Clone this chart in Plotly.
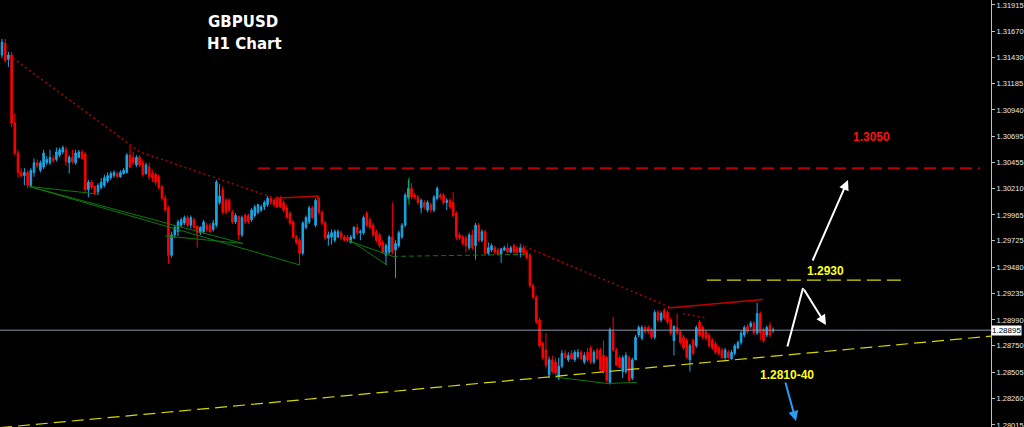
import plotly.graph_objects as go

# ---------------- data (GBPUSD H1) ----------------
opens = [
 1.3145,1.3156,1.3141,1.3145,1.3082,1.3054,1.3036,1.3033,1.3036,1.3024,
 1.3036,1.3045,1.3038,1.3041,1.3045,1.3045,1.3049,1.3048,1.3052,1.3055,
 1.3057,1.3045,1.3050,1.3045,1.3050,1.3055,1.3053,1.3020,1.3027,1.3023,
 1.3018,1.3022,1.3024,1.3028,1.3031,1.3033,1.3035,1.3032,1.3035,1.3036,
 1.3052,1.3050,1.3043,1.3050,1.3045,1.3035,1.3041,1.3035,1.3034,1.3032,
 1.3023,1.3012,1.3003,1.2959,1.2978,1.2981,1.2987,1.2989,1.2994,1.2987,
 1.2992,1.2986,1.2980,1.2981,1.2987,1.2987,1.2983,1.2987,1.3008,1.3020,
 1.3010,1.3010,1.2999,1.2990,1.2995,1.2978,1.2996,1.2996,1.2992,1.2996,
 1.2999,1.3001,1.3004,1.3006,1.3012,1.3010,1.3012,1.3012,1.3008,1.3003,
 1.2998,1.2990,1.2976,1.2973,1.2961,1.2985,1.2990,1.3003,1.2987,1.3012,
 1.2999,1.2989,1.2975,1.2976,1.2973,1.2976,1.2980,1.2976,1.2976,1.2971,
 1.2975,1.2985,1.2980,1.2980,1.2998,1.2992,1.2987,1.2981,1.2978,1.2971,
 1.2959,1.2962,1.2976,1.2964,1.2968,1.2976,1.2987,1.3013,1.3021,1.3015,
 1.3013,1.3003,1.3008,1.3001,1.3006,1.3001,1.3012,1.3015,1.3015,1.3008,
 1.3010,1.3008,1.2998,1.2978,1.2976,1.2975,1.2966,1.2978,1.2968,1.2987,
 1.2973,1.2981,1.2961,1.2964,1.2966,1.2964,1.2960,1.2964,1.2966,1.2962,
 1.2968,1.2966,1.2962,1.2966,1.2962,1.2959,1.2931,1.2920,1.2899,1.2877,
 1.2871,1.2848,1.2862,1.2860,1.2845,1.2856,1.2868,1.2862,1.2868,1.2862,
 1.2865,1.2869,1.2860,1.2869,1.2873,1.2860,1.2871,1.2871,1.2866,1.2864,
 1.2841,1.2888,1.2871,1.2864,1.2851,1.2851,1.2864,1.2845,1.2862,1.2885,
 1.2882,1.2892,1.2892,1.2890,1.2883,1.2906,1.2899,1.2908,1.2906,1.2899,
 1.2880,1.2892,1.2888,1.2883,1.2880,1.2862,1.2880,1.2875,1.2897,1.2892,
 1.2888,1.2885,1.2880,1.2877,1.2873,1.2871,1.2864,1.2869,1.2863,1.2868,
 1.2873,1.2878,1.2885,1.2893,1.2893,1.2896,1.2887,1.2905,1.2890,1.2885,
 1.2894,1.2889]
highs = [
 1.3160,1.3160,1.3148,1.3148,1.3091,1.3057,1.3040,1.3040,1.3038,1.3040,
 1.3049,1.3048,1.3047,1.3057,1.3051,1.3057,1.3052,1.3059,1.3059,1.3061,
 1.3060,1.3052,1.3057,1.3057,1.3057,1.3057,1.3055,1.3029,1.3029,1.3024,
 1.3026,1.3031,1.3034,1.3036,1.3037,1.3038,1.3037,1.3038,1.3040,1.3054,
 1.3061,1.3055,1.3052,1.3052,1.3048,1.3045,1.3045,1.3038,1.3036,1.3034,
 1.3024,1.3015,1.3005,1.2981,1.2987,1.2992,1.2994,1.2996,1.2996,1.2996,
 1.2994,1.2987,1.2986,1.2992,1.2989,1.2989,1.2992,1.3029,1.3025,1.3023,
 1.3012,1.3012,1.3001,1.2998,1.2996,1.2996,1.2998,1.2998,1.3003,1.3006,
 1.3007,1.3006,1.3010,1.3014,1.3014,1.3012,1.3014,1.3014,1.3010,1.3006,
 1.3000,1.2992,1.2978,1.2975,1.2991,1.2996,1.3005,1.3005,1.3012,1.3014,
 1.3001,1.2991,1.2981,1.2983,1.2983,1.2983,1.2982,1.2978,1.2978,1.2978,
 1.2986,1.2988,1.2983,1.2996,1.3000,1.2994,1.2989,1.2983,1.2980,1.2973,
 1.2970,1.2978,1.3008,1.2973,1.2982,1.2989,1.3017,1.3029,1.3026,1.3017,
 1.3015,1.3012,1.3010,1.3010,1.3008,1.3015,1.3023,1.3017,1.3017,1.3012,
 1.3012,1.3018,1.3000,1.2980,1.2978,1.2977,1.2980,1.2983,1.2989,1.2989,
 1.2983,1.2983,1.2971,1.2970,1.2968,1.2966,1.2966,1.2968,1.2970,1.2968,
 1.2970,1.2968,1.2970,1.2968,1.2964,1.2961,1.2933,1.2922,1.2901,1.2879,
 1.2887,1.2865,1.2866,1.2864,1.2864,1.2871,1.2871,1.2869,1.2871,1.2871,
 1.2872,1.2871,1.2869,1.2873,1.2875,1.2871,1.2873,1.2873,1.2880,1.2866,
 1.2892,1.2902,1.2873,1.2866,1.2866,1.2869,1.2866,1.2864,1.2885,1.2894,
 1.2894,1.2894,1.2894,1.2892,1.2908,1.2908,1.2907,1.2910,1.2908,1.2901,
 1.2894,1.2905,1.2890,1.2885,1.2882,1.2877,1.2882,1.2894,1.2899,1.2894,
 1.2890,1.2887,1.2882,1.2879,1.2875,1.2873,1.2873,1.2871,1.2871,1.2877,
 1.2880,1.2889,1.2894,1.2895,1.2898,1.2898,1.2915,1.2907,1.2892,1.2894,
 1.2897,1.2892]
lows = [
 1.3142,1.3138,1.3134,1.3078,1.3052,1.3031,1.3031,1.3024,1.3021,1.3022,
 1.3032,1.3040,1.3036,1.3039,1.3043,1.3043,1.3045,1.3046,1.3050,1.3053,
 1.3042,1.3035,1.3044,1.3043,1.3049,1.3048,1.3018,1.3013,1.3020,1.3015,
 1.3015,1.3020,1.3022,1.3026,1.3029,1.3031,1.3031,1.3031,1.3034,1.3035,
 1.3040,1.3043,1.3041,1.3041,1.3032,1.3034,1.3029,1.3027,1.3024,1.3020,
 1.3010,1.2999,1.2951,1.2957,1.2975,1.2977,1.2985,1.2987,1.2985,1.2984,
 1.2983,1.2966,1.2978,1.2979,1.2981,1.2980,1.2981,1.2985,1.3006,1.2997,
 1.2997,1.2999,1.2988,1.2988,1.2973,1.2976,1.2988,1.2988,1.2990,1.2994,
 1.2997,1.2999,1.3001,1.3004,1.3006,1.3004,1.3003,1.3003,1.2999,1.2993,
 1.2987,1.2974,1.2969,1.2950,1.2959,1.2983,1.2988,1.2993,1.2985,1.2997,
 1.2987,1.2973,1.2968,1.2969,1.2971,1.2975,1.2973,1.2972,1.2971,1.2970,
 1.2974,1.2978,1.2973,1.2978,1.2985,1.2983,1.2976,1.2971,1.2966,1.2960,
 1.2950,1.2960,1.2960,1.2938,1.2966,1.2974,1.2985,1.3011,1.3011,1.3011,
 1.3006,1.2998,1.3002,1.2999,1.2999,1.2999,1.3010,1.3011,1.3006,1.3001,
 1.3002,1.2994,1.2973,1.2973,1.2968,1.2962,1.2964,1.2964,1.2955,1.2971,
 1.2971,1.2959,1.2959,1.2962,1.2960,1.2959,1.2952,1.2963,1.2961,1.2961,
 1.2961,1.2960,1.2957,1.2959,1.2955,1.2929,1.2918,1.2895,1.2873,1.2862,
 1.2854,1.2845,1.2849,1.2848,1.2843,1.2854,1.2863,1.2860,1.2862,1.2860,
 1.2863,1.2862,1.2858,1.2860,1.2858,1.2858,1.2862,1.2851,1.2849,1.2841,
 1.2839,1.2869,1.2856,1.2854,1.2845,1.2849,1.2841,1.2843,1.2862,1.2883,
 1.2880,1.2886,1.2886,1.2881,1.2881,1.2897,1.2897,1.2899,1.2895,1.2885,
 1.2866,1.2885,1.2876,1.2871,1.2863,1.2851,1.2866,1.2873,1.2883,1.2881,
 1.2880,1.2873,1.2871,1.2867,1.2866,1.2863,1.2862,1.2863,1.2862,1.2866,
 1.2872,1.2876,1.2883,1.2886,1.2891,1.2885,1.2885,1.2880,1.2878,1.2883,
 1.2883,1.2887]
closes = [
 1.3157,1.3140,1.3145,1.3082,1.3054,1.3036,1.3033,1.3036,1.3024,1.3038,
 1.3045,1.3042,1.3045,1.3054,1.3048,1.3050,1.3047,1.3055,1.3057,1.3059,
 1.3046,1.3050,1.3046,1.3054,1.3055,1.3049,1.3020,1.3027,1.3022,1.3017,
 1.3024,1.3027,1.3031,1.3033,1.3035,1.3036,1.3032,1.3036,1.3038,1.3052,
 1.3041,1.3045,1.3050,1.3043,1.3034,1.3043,1.3032,1.3031,1.3027,1.3022,
 1.3012,1.3001,1.2959,1.2978,1.2985,1.2990,1.2992,1.2994,1.2987,1.2994,
 1.2985,1.2980,1.2985,1.2990,1.2983,1.2981,1.2989,1.3027,1.3014,1.2999,
 1.2999,1.3001,1.2990,1.2996,1.2978,1.2994,1.2990,1.2990,1.3001,1.3004,
 1.3006,1.3004,1.3008,1.3012,1.3008,1.3006,1.3004,1.3004,1.3001,1.2994,
 1.2989,1.2976,1.2971,1.2961,1.2989,1.2994,1.3003,1.2994,1.3010,1.2999,
 1.2989,1.2975,1.2978,1.2980,1.2981,1.2981,1.2975,1.2973,1.2973,1.2976,
 1.2985,1.2980,1.2981,1.2994,1.2987,1.2985,1.2978,1.2973,1.2968,1.2962,
 1.2968,1.2976,1.2962,1.2970,1.2980,1.2987,1.3015,1.3021,1.3013,1.3013,
 1.3008,1.3010,1.3004,1.3008,1.3001,1.3013,1.3021,1.3013,1.3008,1.3010,
 1.3004,1.2996,1.2976,1.2975,1.2970,1.2968,1.2978,1.2966,1.2987,1.2973,
 1.2981,1.2961,1.2966,1.2968,1.2962,1.2960,1.2965,1.2966,1.2962,1.2966,
 1.2962,1.2962,1.2966,1.2961,1.2957,1.2931,1.2920,1.2897,1.2875,1.2864,
 1.2857,1.2862,1.2851,1.2850,1.2856,1.2868,1.2864,1.2866,1.2863,1.2869,
 1.2869,1.2863,1.2866,1.2862,1.2860,1.2869,1.2863,1.2853,1.2851,1.2843,
 1.2890,1.2871,1.2857,1.2855,1.2864,1.2866,1.2843,1.2862,1.2883,1.2892,
 1.2892,1.2888,1.2888,1.2883,1.2906,1.2899,1.2905,1.2901,1.2897,1.2887,
 1.2893,1.2887,1.2878,1.2873,1.2864,1.2875,1.2868,1.2892,1.2885,1.2883,
 1.2882,1.2875,1.2873,1.2869,1.2868,1.2864,1.2871,1.2864,1.2869,1.2875,
 1.2878,1.2887,1.2892,1.2888,1.2896,1.2887,1.2905,1.2887,1.2880,1.2892,
 1.2885,1.28895]
bars = list(range(len(closes)))

last_price = 1.28895

tick_vals = [1.31915, 1.31670, 1.31430, 1.31185, 1.30940, 1.30695, 1.30455, 1.30210,
             1.29965, 1.29725, 1.29480, 1.29235, 1.28990, 1.28750, 1.28505, 1.28260, 1.28015]
tick_text = ["1.31915", "1.31670", "1.31430", "1.31185", "1.30940", "1.30695", "1.30455", "1.30210",
             "1.29965", "1.29725", "1.29480", "1.29235", "1.28990", "1.28750", "1.28505", "1.28260", "1.28015"]

# drawn objects (bar index, price)
resist_x, resist_y = [80.0, 305.6], [1.3040, 1.3040]          # red dashed 1.3050 zone
target_x, target_y = [220.3, 282.2], [1.2936, 1.2936]         # yellow dashed 1.2930
support_x, support_y = [-0.63, 309.1], [1.2799, 1.2884]       # yellow rising support
red_dot1_x, red_dot1_y = [3.4, 43.1, 85.3], [1.3142, 1.3055, 1.3012]
red_box1_x, red_box1_y = [85.3, 98.75, 98.75], [1.3012, 1.3014, 1.3008]
red_dot2_x, red_dot2_y = [161.9, 209.4], [1.2969, 1.2910]
red_line2_x, red_line2_y = [208.1, 237.8], [1.2910, 1.2918]
red_dot3_x, red_dot3_y = [212.8, 219.7], [1.2905, 1.2901]
green_lines = [
    ([8.4, 29.7], [1.3023, 1.3016]),
    ([8.4, 75.3], [1.3023, 1.2970]),
    ([8.4, 93.1], [1.3023, 1.2950]),
    ([50.9, 75.3], [1.2977, 1.2970]),
    ([108.75, 120.3], [1.2973, 1.2950]),
    ([108.75, 122.2], [1.2972, 1.2958]),
    ([172.8, 189.1, 198.4], [1.2846, 1.2840, 1.2841]),
]
green_dash_x, green_dash_y = [122.2, 165.0], [1.2958, 1.2960]
green_tick_x, green_tick_y = [127.2, 127.2], [1.3031, 1.3006]

BLUE = "#1aa6e6"
RED = "#ff0000"
DRED = "#b00000"
GREEN = "#0b7a0b"
YELLOW = "#d6d600"

fig = go.Figure()

# last price line
fig.add_trace(go.Scatter(x=[-1, 320], y=[last_price, last_price], mode="lines",
                         line=dict(color="#8c96aa", width=1), hoverinfo="skip"))

for gx, gy in green_lines:
    fig.add_trace(go.Scatter(x=gx, y=gy, mode="lines", line=dict(color=GREEN, width=1), hoverinfo="skip"))
fig.add_trace(go.Scatter(x=green_dash_x, y=green_dash_y, mode="lines",
                         line=dict(color=GREEN, width=1, dash="5px,3px"), hoverinfo="skip"))

fig.add_trace(go.Candlestick(
    x=bars, open=opens, high=highs, low=lows, close=closes,
    increasing=dict(line=dict(color=BLUE, width=1), fillcolor=BLUE),
    decreasing=dict(line=dict(color=RED, width=1), fillcolor=RED),
    whiskerwidth=0, hoverinfo="skip"))

fig.add_trace(go.Scatter(x=green_tick_x, y=green_tick_y, mode="lines",
                         line=dict(color="#10b010", width=1), hoverinfo="skip"))

fig.add_trace(go.Scatter(x=support_x, y=support_y, mode="lines",
                         line=dict(color=YELLOW, width=1.2, dash="12px,6px"), hoverinfo="skip"))
fig.add_trace(go.Scatter(x=target_x, y=target_y, mode="lines",
                         line=dict(color=YELLOW, width=1.2, dash="14px,6px"), hoverinfo="skip"))
fig.add_trace(go.Scatter(x=resist_x, y=resist_y, mode="lines",
                         line=dict(color=RED, width=1.2, dash="12px,6px"), hoverinfo="skip"))
for rx, ry in [(red_dot1_x, red_dot1_y), (red_dot2_x, red_dot2_y), (red_dot3_x, red_dot3_y)]:
    fig.add_trace(go.Scatter(x=rx, y=ry, mode="lines",
                             line=dict(color=DRED, width=1.5, dash="2px,3px"), hoverinfo="skip"))
for rx, ry in [(red_box1_x, red_box1_y), (red_line2_x, red_line2_y)]:
    fig.add_trace(go.Scatter(x=rx, y=ry, mode="lines",
                             line=dict(color="#c00000", width=1.5), hoverinfo="skip"))

annotations = [
    dict(xref="paper", yref="paper", x=243/991, y=1-22/427, xanchor="center", yanchor="middle",
         text="<b>GBPUSD</b>", showarrow=False,
         font=dict(family="DejaVu Sans", size=15, color="white")),
    dict(xref="paper", yref="paper", x=244/991, y=1-44/427, xanchor="center", yanchor="middle",
         text="<b>H1 Chart</b>", showarrow=False,
         font=dict(family="DejaVu Sans", size=15, color="white")),
    dict(x=271.9, y=1.30689, text="<b>1.3050</b>", showarrow=False,
         font=dict(family="Liberation Sans", size=12, color="#ff1010")),
    dict(x=257.5, y=1.29445, text="<b>1.2930</b>", showarrow=False,
         font=dict(family="Liberation Sans", size=12, color="#ffff20")),
    dict(x=245.3, y=1.28479, text="<b>1.2810-40</b>", showarrow=False,
         font=dict(family="Liberation Sans", size=12, color="#ffff20")),
    dict(xref="paper", x=1.0, y=last_price, xanchor="left", yanchor="middle",
         text="1.28895", showarrow=False, bgcolor="white", borderpad=0,
         font=dict(family="Liberation Sans", size=8, color="black")),
    # arrows (head at x,y ; tail offset in px)
    dict(xref="paper", yref="paper", x=848/991, y=1-180/427, ax=-36, ay=82, text="",
         showarrow=True, arrowhead=2, arrowsize=1, arrowwidth=2, arrowcolor="white"),
    dict(xref="paper", yref="paper", x=803/991, y=1-288/427, ax=-16, ay=60, text="",
         showarrow=True, arrowhead=0, arrowwidth=2, arrowcolor="white"),
    dict(xref="paper", yref="paper", x=826/991, y=1-325/427, ax=-23, ay=-37, text="",
         showarrow=True, arrowhead=2, arrowsize=1, arrowwidth=2, arrowcolor="white"),
    dict(xref="paper", yref="paper", x=796/991, y=1-421/427, ax=-11, ay=-40, text="",
         showarrow=True, arrowhead=2, arrowsize=1, arrowwidth=2, arrowcolor="#2a9df4"),
]

fig.update_layout(
    width=1024, height=427,
    paper_bgcolor="black", plot_bgcolor="black",
    margin=dict(l=0, r=33, t=0, b=0),
    showlegend=False,
    xaxis=dict(visible=False, range=[-0.63, 309.1], rangeslider=dict(visible=False),
               showgrid=False, zeroline=False),
    yaxis=dict(side="right", range=[1.27996, 1.31961], showgrid=False, zeroline=False,
               showline=True, linecolor="#c0c0c0", linewidth=1,
               ticks="outside", ticklen=3, tickcolor="#c0c0c0",
               tickvals=tick_vals, ticktext=tick_text, automargin=False,
               ticklabeloverflow="allow",
               tickfont=dict(family="Liberation Sans", size=7.5, color="#e8e8e8")),
    annotations=annotations,
)

fig.write_html("out.html", config={"displayModeBar": False},
               post_script="document.body.style.margin='0';document.body.style.background='black';")
